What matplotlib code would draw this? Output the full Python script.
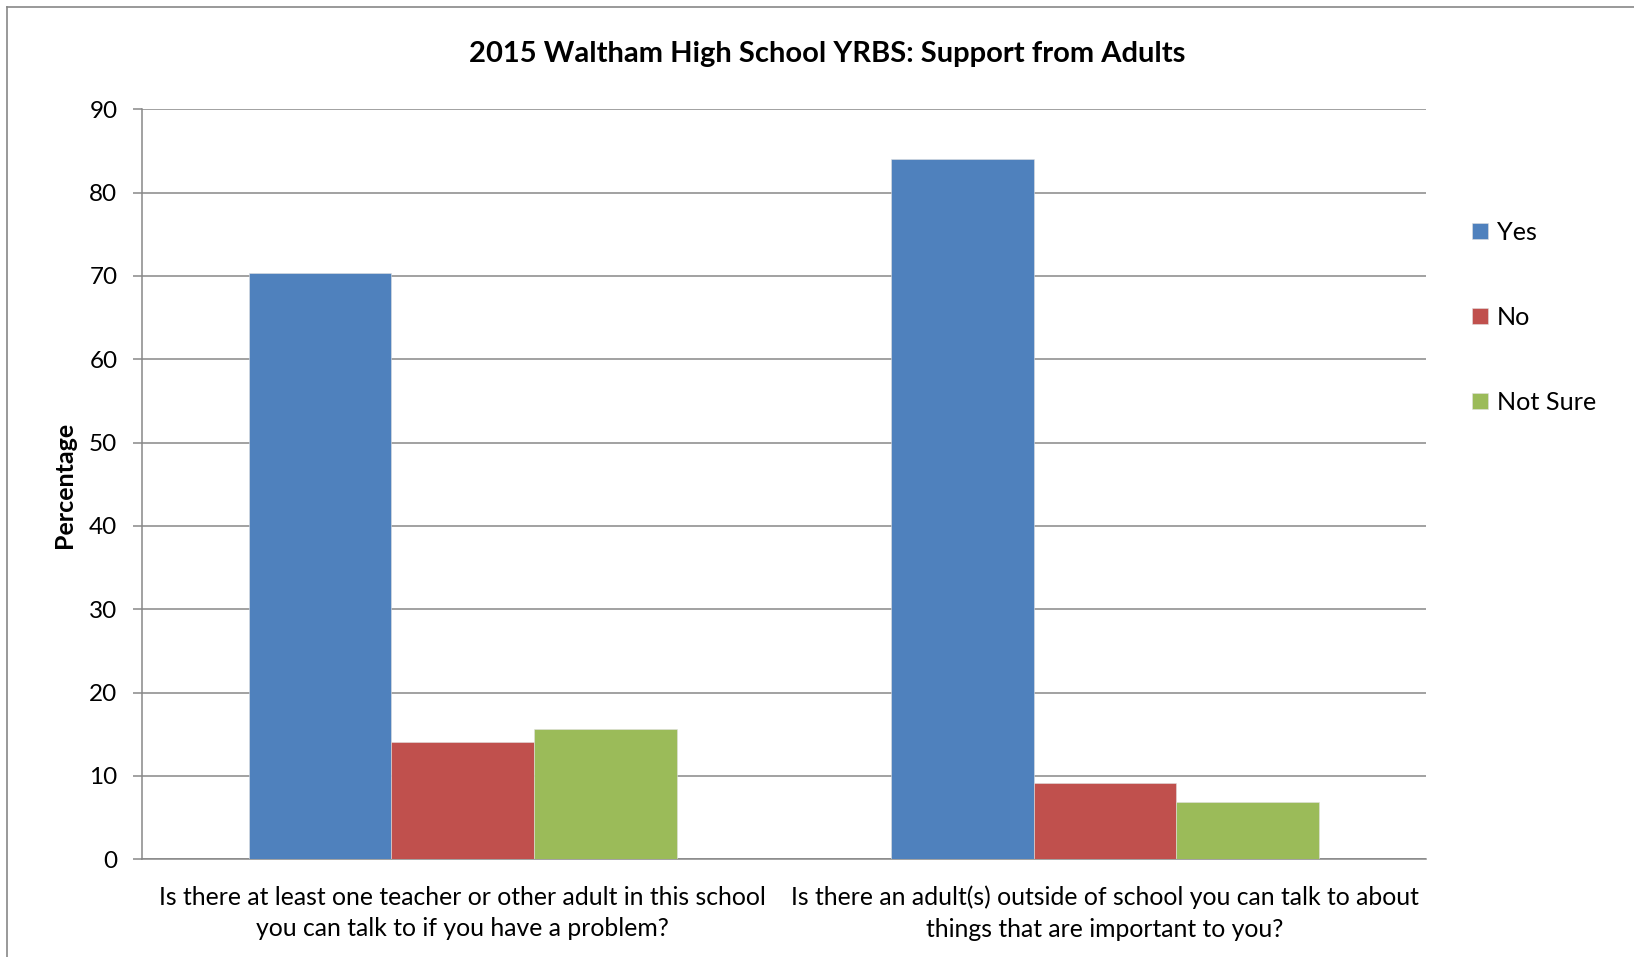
import numpy as np
import matplotlib
matplotlib.use('Agg')
import matplotlib.pyplot as plt
from matplotlib.lines import Line2D

# 2015 Waltham HS YRBS - support from adults
questions = [
    'Is there at least one teacher or other adult in this school\nyou can talk to if you have a problem?',
    'Is there an adult(s) outside of school you can talk to about\nthings that are important to you?',
]
series = ['Yes', 'No', 'Not Sure']
yes = [70.3, 84.0]
no = [14.1, 9.1]
not_sure = [15.6, 6.9]
colors = ['#4F81BD', '#C0504D', '#9BBB59']
yticks = [0, 10, 20, 30, 40, 50, 60, 70, 80, 90]

plt.rcParams['font.family'] = ['Lato', 'DejaVu Sans']
grey = '#878787'

W, H = 1634, 957
fig = plt.figure(figsize=(W / 100, H / 100), dpi=100)
ax = fig.add_axes([141.7 / W, 1 - 859.3 / H, (1426 - 141.7) / W, (859.3 - 109.3) / H])

x = np.arange(len(questions))
bw = 1 / 4.5
for i, (name, vals) in enumerate(zip(series, [yes, no, not_sure])):
    ax.bar(x + (i - 1) * bw, vals, bw, color=colors[i], label=name,
           edgecolor='#e0e0e0', linewidth=0.4, zorder=3)

ax.set_xlim(-0.5, 1.5)
ax.set_ylim(0, 90)
ax.set_yticks(yticks)
ax.set_xticks(x)
ax.set_xticklabels(questions, fontsize=17.8, linespacing=1.45)
ax.tick_params(axis='x', length=0, pad=19)
ax.tick_params(axis='y', length=6.5, width=1.1, color=grey, pad=11, labelsize=17.5)
ax.yaxis.grid(True, color=grey, lw=1.1, zorder=0)
ax.set_axisbelow(True)
for s in ['top', 'right']:
    ax.spines[s].set_visible(False)
for s in ['left', 'bottom']:
    ax.spines[s].set_color(grey)
    ax.spines[s].set_linewidth(1.1)

fig.text(827 / W, 1 - 54 / H, '2015 Waltham High School YRBS: Support from Adults',
         ha='center', va='center', fontsize=21, weight='bold')
fig.text(64.6 / W, 1 - 484.5 / H, 'Percentage', rotation=90, ha='center', va='center',
         fontsize=18, weight='bold')

ax.legend(loc='upper left', bbox_to_anchor=(1462 / W, 1 - 211 / H), bbox_transform=fig.transFigure,
          frameon=False, fontsize=18.2, handlelength=0.62, handleheight=0.62, handletextpad=0.35,
          labelspacing=2.45, borderaxespad=0)

# outer chart border
fig.add_artist(Line2D([7 / W, 7 / W], [0, 1 - 6.7 / H], transform=fig.transFigure, color=grey, lw=1.2))
fig.add_artist(Line2D([7 / W, 1], [1 - 6.7 / H, 1 - 6.7 / H], transform=fig.transFigure, color=grey, lw=1.2))

fig.savefig('out.png', dpi=100)
